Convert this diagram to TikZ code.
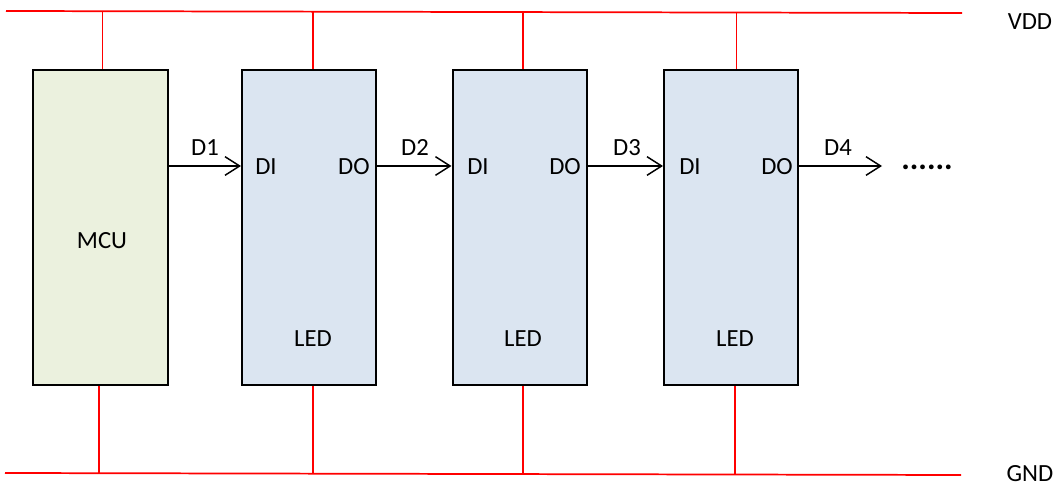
\documentclass[tikz,border=0pt]{standalone}
\usepackage{fontspec}
\setmainfont{Carlito}
\usetikzlibrary{arrows.meta}
\definecolor{mcufill}{HTML}{EBF1DE}
\definecolor{ledfill}{HTML}{DBE5F1}
\begin{document}
\begin{tikzpicture}[x=0.75pt,y=-0.75pt,
  every node/.style={font=\fontsize{18.5}{21}\selectfont, inner sep=0pt},
  block/.style={draw=black, line width=1.5pt, minimum height=236.25pt},
  mcubox/.style={block, fill=mcufill, minimum width=101.25pt},
  ledbox/.style={block, fill=ledfill, minimum width=100.5pt},
  rail/.style={draw=red, line width=1.3pt},
  sig/.style={draw=black, line width=1.1pt, -{Straight Barb[length=11pt,width=14pt,line width=1.1pt]}}]
\useasboundingbox (0,0) rectangle (1061,491);
% boxes
\node[mcubox] (mcu) at (100.5,227.5) {};
\node[ledbox] (l1) at (309,227.5) {};
\node[ledbox] (l2) at (519.5,227.5) {};
\node[ledbox] (l3) at (731,227.5) {};
% texts
\node (tmcu) at (102,241) {MCU};
\node (led1) at (313,339) {LED};
\node (led2) at (523,339) {LED};
\node (led3) at (735,339) {LED};
\node (di1) at (266,167) {DI};
\node (do1) at (354,167) {DO};
\node (di2) at (478,167) {DI};
\node (do2) at (565,167) {DO};
\node (di3) at (690,167) {DI};
\node (do3) at (777,167) {DO};
\node (dd1) at (205,148) {D1};
\node (dd2) at (415,148) {D2};
\node (dd3) at (627,148) {D3};
\node (dd4) at (838,148) {D4};
\node[font=\fontsize{24}{24}\selectfont\bfseries] (dots) at (927,167) {......};
\node (vdd) at (1030,22) {VDD};
\node (gnd) at (1030,474) {GND};
% rails
\coordinate (vl) at (6,11);
\coordinate (vr) at (962,13);
\coordinate (gl) at (5,473);
\coordinate (gr) at (961,475);
\draw[rail] (vl) -- (vr);
\draw[rail] (gl) -- (gr);
\coordinate (ym) at (0,166);
\coordinate (yv) at (0,12);
\coordinate (yg) at (0,474);
\draw[rail] ([xshift=1.5pt]mcu.north) -- ([xshift=1.5pt]mcu.north |- yv);
\draw[rail] ([xshift=-1.2pt]mcu.south) -- ([xshift=-1.2pt]mcu.south |- yg);
\foreach \b/\o in {l1/3, l2/2.6, l3/4.2}{
  \draw[rail] ([xshift=\o pt]\b.north) -- ([xshift=\o pt]\b.north |- yv);
}
\foreach \b/\o in {l1/3, l2/2.6, l3/3}{
  \draw[rail] ([xshift=\o pt]\b.south) -- ([xshift=\o pt]\b.south |- yg);
}
% signals
\coordinate (end4) at (882,166);
\draw[sig] (mcu.east |- ym) -- (l1.west |- ym);
\draw[sig] (l1.east |- ym) -- (l2.west |- ym);
\draw[sig] (l2.east |- ym) -- (l3.west |- ym);
\draw[sig] (l3.east |- ym) -- (end4);
\end{tikzpicture}
\end{document}
